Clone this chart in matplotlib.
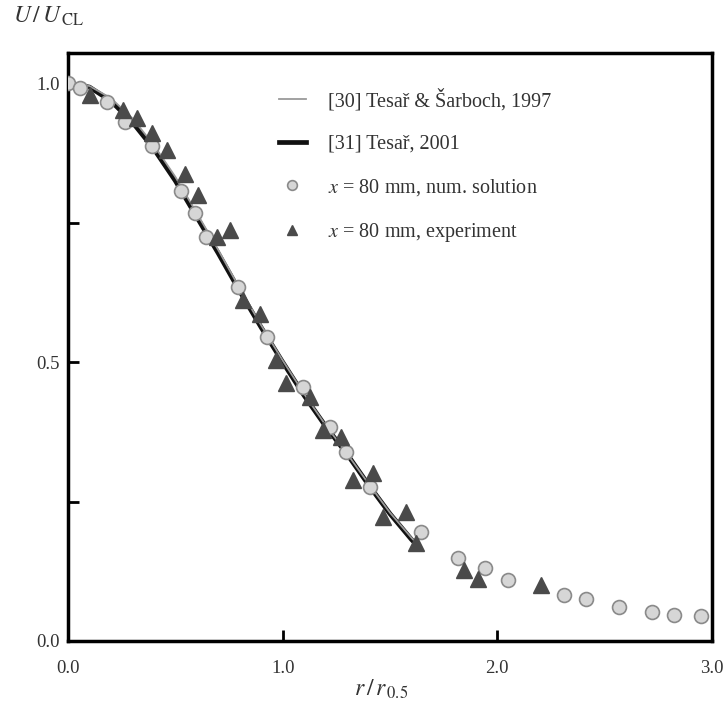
import matplotlib
matplotlib.use("Agg")
import matplotlib.pyplot as plt

plt.rcParams['font.family'] = ['Liberation Serif', 'DejaVu Serif']
plt.rcParams['mathtext.fontset'] = 'stix'

# curve [31] Tesar 2001
r_fit = [0.0, 0.1, 0.2, 0.3, 0.4, 0.5, 0.6, 0.7, 0.8, 0.9, 1.0,
         1.1, 1.2, 1.3, 1.4, 1.5, 1.6, 1.62]
u_fit = [1.0, 0.993, 0.968, 0.93, 0.882, 0.825, 0.76, 0.695, 0.627, 0.562, 0.5,
         0.44, 0.385, 0.335, 0.28, 0.228, 0.182, 0.174]
# curve [30] Tesar & Sarboch 1997
u_old = [1.0, 0.995, 0.973, 0.937, 0.889, 0.832, 0.767, 0.701, 0.632, 0.566, 0.503,
         0.443, 0.387, 0.336, 0.282, 0.23, 0.185, 0.177]

# x = 80 mm, numerical solution
r_num = [0.0, 0.056, 0.18, 0.265, 0.389, 0.526, 0.591, 0.645, 0.792, 0.927,
         1.094, 1.22, 1.296, 1.405, 1.645, 1.815, 1.944, 2.048, 2.312, 2.413,
         2.567, 2.722, 2.823, 2.947]
u_num = [1.0, 0.991, 0.966, 0.931, 0.887, 0.807, 0.768, 0.725, 0.635, 0.545,
         0.456, 0.384, 0.339, 0.276, 0.196, 0.148, 0.130, 0.109, 0.082, 0.076,
         0.061, 0.052, 0.047, 0.044]

# x = 80 mm, experiment
r_exp = [0.102, 0.256, 0.32, 0.389, 0.459, 0.544, 0.606, 0.692, 0.753, 0.815,
         0.893, 0.971, 1.017, 1.126, 1.187, 1.273, 1.327, 1.42, 1.467, 1.575,
         1.622, 1.847, 1.909, 2.203]
u_exp = [0.978, 0.952, 0.937, 0.91, 0.88, 0.838, 0.799, 0.725, 0.737, 0.611,
         0.587, 0.504, 0.462, 0.438, 0.378, 0.366, 0.289, 0.301, 0.223, 0.232,
         0.175, 0.127, 0.112, 0.100]

fig = plt.figure(figsize=(7.26, 7.17), dpi=100)
ax = fig.add_axes([0.0937, 0.106, 0.887, 0.82])

l30, = ax.plot(r_fit, u_old, color='#9a9a9a', lw=1.3, zorder=4)
l31, = ax.plot(r_fit, u_fit, color='#111111', lw=3.4, zorder=3)
pn, = ax.plot(r_num, u_num, 'o', ms=10, mfc='#d6d6d6', mec='#8a8a8a', mew=1.2,
              ls='none', zorder=5)
pe, = ax.plot(r_exp, u_exp, '^', ms=11, mfc='#4a4a4a', mec='#4a4a4a',
              ls='none', zorder=6)

ax.set_xlim(0, 3.0)
ax.set_ylim(0, 1.054)

for s in ax.spines.values():
    s.set_linewidth(2.5)

ax.set_xticks([0.0, 1.0, 2.0, 3.0])
ax.set_xticklabels(['0.0', '1.0', '2.0', '3.0'])
ax.set_yticks([0.0, 0.25, 0.5, 0.75, 1.0])
ax.set_yticklabels(['0.0', '', '0.5', '', '1.0'])
ax.tick_params(direction='in', length=8, width=2, labelsize=13.5,
               labelcolor='#333333')
ax.tick_params(axis='x', pad=14)
ax.tick_params(axis='y', pad=6)

fig.text(0.018, 0.968, r'$U\,/\,U_{\,\mathrm{CL}}$', fontsize=17, color='#333333')
fig.text(0.525, 0.03, r'$r\,/\,r_{\,0.5}$', fontsize=17, color='#333333', ha='center')

leg = ax.legend([l30, l31, pn, pe],
                ['[30] Tesař & Šarboch, 1997', '[31] Tesař, 2001',
                 r'$x$ = 80 mm, num. solution', r'$x$ = 80 mm, experiment'],
                loc='upper left', bbox_to_anchor=(0.3, 0.97), frameon=False,
                fontsize=14.5, handlelength=1.3, handletextpad=1.1,
                labelspacing=1.15, markerscale=0.7, labelcolor='#333333')

fig.savefig('out.png', dpi=100)
